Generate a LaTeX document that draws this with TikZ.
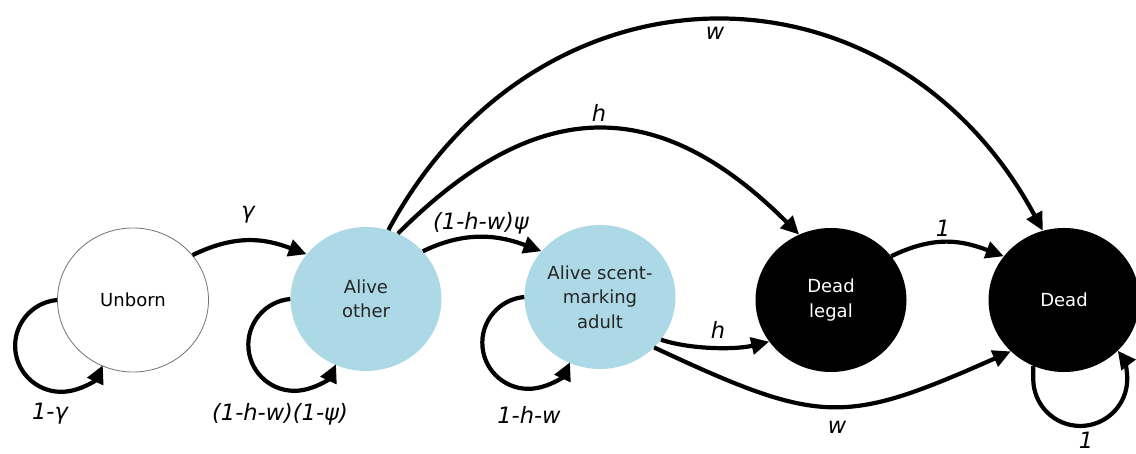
\documentclass[tikz,border=0pt]{standalone}
\usepackage{fontspec}
\setmainfont{DejaVu Sans}
\usetikzlibrary{arrows.meta,shapes.geometric}
\definecolor{aliveblue}{HTML}{ADD8E6}
\begin{document}
\begin{tikzpicture}[x=1pt,y=-1pt,
  state/.style={ellipse, minimum width=151pt, minimum height=144pt, inner sep=0pt,
    align=center, font=\fontsize{18}{24.5}\selectfont},
  unbornst/.style={state, draw=black!55, line width=0.8pt, fill=white},
  alivest/.style={state, fill=aliveblue, text=black!85},
  deadst/.style={state, fill=black, text=white},
  edge/.style={line width=4.2pt, -{Triangle[length=18pt,width=17pt]}},
  lbl/.style={font=\fontsize{22.5}{24}\selectfont\itshape, inner sep=0pt}]
\useasboundingbox (0,0) rectangle (1136,454);

% states
\node[unbornst] (u) at (133,300) {Unborn};
\node[alivest]  (a) at (366,299) {Alive\\other};
\node[alivest]  (s) at (600,297) {Alive scent-\\marking\\adult};
\node[deadst]   (l) at (831,300) {Dead\\legal};
\node[deadst]   (d) at (1064,300) {Dead};

% transitions between states
\draw[edge] (u.37) .. controls +(45,-22) and +(-40,-15) .. (a.143);
\draw[edge] (a.40) .. controls +(45,-22) and +(-40,-15) .. (s.142);
\draw[edge] (l.36) .. controls +(45,-22) and +(-40,-15) .. (d.144);
\draw[edge] (s.-35) .. controls +(30,10) and +(-33,8) .. (l.214);
\draw[edge] (s.-43) .. controls +(167,78) and +(-167,74) .. (d.224);
\draw[edge] (a.64) .. controls +(140,-140) and +(-140,-140) .. (l.116);
\draw[edge] (a.72) .. controls +(151,-280) and +(-151,-280) .. (d.107);

% self-loops
\draw[edge] (u.west) arc[start angle=265, end angle=25, radius=46];
\draw[edge] (a.west) arc[start angle=265, end angle=25, radius=46];
\draw[edge] (s.west) arc[start angle=265, end angle=25, radius=46];
\draw[edge] (d.-115) -- ++(0,13) arc[start angle=180, end angle=-37, radius=47];

% transition probabilities
\node[lbl] (p1) at (248,215) {γ};
\node[lbl] (p2) at (50,414) {1-γ};
\node[lbl] (p3) at (280,414) {(1-h-w)(1-ψ)};
\node[lbl] (p4) at (481,223) {(1-h-w)ψ};
\node[lbl] (p5) at (529,415) {1-h-w};
\node[lbl] (p6) at (715,33) {w};
\node[lbl] (p7) at (599,113) {h};
\node[lbl] (p8) at (718,330) {h};
\node[lbl] (p9) at (837,427) {w};
\node[lbl] (p10) at (943,228) {1};
\node[lbl] (p11) at (1086,440) {1};
\end{tikzpicture}
\end{document}
